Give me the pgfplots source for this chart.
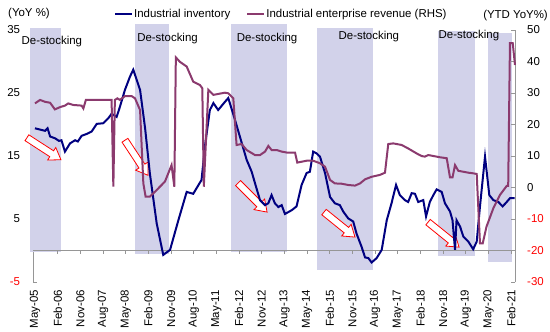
\documentclass[border=0pt]{standalone}
\usepackage{pgfplots}
\pgfplotsset{compat=1.18}
\usepackage{fontspec}
\setmainfont{Liberation Sans}
\definecolor{invcol}{RGB}{0,0,128}
\definecolor{revcol}{RGB}{139,58,110}
\definecolor{shadecol}{RGB}{210,210,234}
\definecolor{axgray}{RGB}{150,150,150}
% hollow arrow: #1 m, #2 v (tail), #3 angle, #4 length, #5 head base
\newcommand{\hollowarrow}[5]{%
  \draw[red, line width=0.8pt, fill=white, shift={(axis cs:#1,#2)}, rotate=#3]
    (canvas cs:x=0bp,y=-3.5bp) -- (canvas cs:x=#5bp,y=-3.5bp) -- (canvas cs:x=#5bp,y=-7.5bp)
    -- (canvas cs:x=#4bp,y=0bp) -- (canvas cs:x=#5bp,y=7.5bp) -- (canvas cs:x=#5bp,y=3.5bp)
    -- (canvas cs:x=0bp,y=3.5bp) -- cycle;}
\begin{document}
\begin{tikzpicture}[font=\fontsize{11.5}{13.8}\selectfont]
\pgfplotsset{common/.style={scale only axis, width=481.7bp, height=252bp,
  xmin=-0.67, xmax=190.5, clip=false, major tick length=4bp}}
\begin{axis}[common, ymin=-5, ymax=35,
  axis y line*=left, axis x line*=bottom,
  x axis line style={draw=none},
  y axis line style={axgray, line width=0.8pt},
  xtick={0,9,...,189},
  xticklabels={May-05,Feb-06,Nov-06,Aug-07,May-08,Feb-09,Nov-09,Aug-10,May-11,Feb-12,Nov-12,Aug-13,May-14,Feb-15,Nov-15,Aug-16,May-17,Feb-18,Nov-18,Aug-19,May-20,Feb-21},
  xtick style={draw=none},
  xticklabel style={yshift=-8bp, rotate=90, anchor=east, inner sep=0pt},
  ytick={-5,5,15,25,35},
  yticklabels={\textcolor{red}{-5},5,15,25,35},
  ytick style={axgray, line width=0.8pt},
  yticklabel style={inner sep=0pt, xshift=-13bp},
]
% de-stocking periods
\addplot[forget plot, draw=none, fill=shadecol] coordinates {(-2,-0.2) (10.3,-0.2) (10.3,35.3) (-2,35.3)} -- cycle;
\addplot[forget plot, draw=none, fill=shadecol] coordinates {(39.7,-0.5) (53.2,-0.5) (53.2,36) (39.7,36)} -- cycle;
\addplot[forget plot, draw=none, fill=shadecol] coordinates {(77.8,-0.3) (100,-0.3) (100,36) (77.8,36)} -- cycle;
\addplot[forget plot, draw=none, fill=shadecol] coordinates {(111.9,-3.1) (134.1,-3.1) (134.1,35.3) (111.9,35.3)} -- cycle;
\addplot[forget plot, draw=none, fill=shadecol] coordinates {(159.9,-0.9) (174.6,-0.9) (174.6,34.8) (159.9,34.8)} -- cycle;
\addplot[forget plot, draw=none, fill=shadecol] coordinates {(179.8,-1.8) (189.3,-1.8) (189.3,34.5) (179.8,34.5)} -- cycle;
\node at (axis cs:6.7,33.1) {De-stocking};
\node at (axis cs:52.6,33.7) {De-stocking};
\node at (axis cs:92.1,33.7) {De-stocking};
\node at (axis cs:132.5,33.9) {De-stocking};
\node at (axis cs:172.2,34.2) {De-stocking};
% zero line with ticks
\draw[axgray, line width=0.8pt] (axis cs:-0.67,0) -- (axis cs:190.5,0);
\pgfplotsinvokeforeach{9,18,...,189}{\draw[axgray, line width=0.8pt] (axis cs:#1,0) -- ++(canvas cs:x=0bp,y=-3bp);}
% arrows
\hollowarrow{-3.2}{17.9}{-32.9}{40.5}{29.5}
\hollowarrow{35.7}{17.5}{-56.7}{41.9}{30.9}
\hollowarrow{80.6}{10.7}{-45}{41}{30}
\hollowarrow{114.7}{6.1}{-38.9}{39.8}{28.8}
\hollowarrow{156}{4.5}{-38.9}{39.8}{28.8}
% industrial inventory (LHS)
\addplot[invcol, line width=2bp, forget plot] coordinates {
(0,19.4) (2,19.2) (4,19.0) (5,19.4) (6,18.1) (8,17.8) (9.5,17.4) (10.5,17.5) (11.9,15.7) (13.9,17.0)
(15.9,17.5) (17,17.3) (18.5,18.2) (20.5,18.5) (22.5,18.9) (24.5,20.1) (27.1,20.2) (29.1,21.0) (30.4,21.7)
(32.4,21.2) (33.7,22.8) (35.7,25.5) (37.7,27.6) (39,28.7) (41.7,25.5) (43.7,19.4) (45.6,12.2) (48.3,4.3)
(50.9,-0.7) (53.6,0.1) (56.9,4.8) (60.2,9.3) (62.8,9.0) (66.1,11.2) (67.5,16.7) (69.4,22.3) (70.8,23.4)
(72.7,22.3) (75.4,23.6) (76.7,24.2) (79.4,20.7) (81.3,18.1) (84,14.4) (86,12.5) (87.3,10.7) (89.3,8.0)
(91.3,7.2) (92.6,7.5) (93.9,8.8) (95.2,7.5) (96.6,6.9) (97.9,7.2) (99.2,5.8) (101.9,6.4) (103.8,7.0)
(105.8,10.4) (107.8,12.3) (109.1,12.5) (110.4,15.7) (111.8,15.4) (113.1,14.9) (115.1,12.3) (117.1,8.5)
(119,7.5) (121,7.2) (122.3,6.2) (124.3,5.1) (126.3,4.6) (127.6,2.7) (129.6,0.6) (131,-1.1) (132.3,-1.2)
(133.6,-1.9) (135.6,-1.2) (137.6,0.1) (139.6,4.8) (141.5,7.5) (143.3,10.4) (144.8,8.8) (146.8,8.0)
(148.1,7.7) (149.5,9.1) (150.8,9.0) (152.1,7.7) (154.1,8.0) (155.2,5.4) (156.7,7.7) (158.1,8.8) (159.4,9.7)
(161.4,9.3) (162.7,7.5) (164.7,6.2) (165.7,4.8) (166.7,0.1) (167.3,4.8) (168.7,3.8) (170,2.2) (172,1.4)
(173.9,0.2) (175.3,1.4) (176.6,7.0) (178.6,14.9) (180.3,8.8) (181.9,8.0) (183.9,7.7) (185.6,7.0)
(187.2,7.7) (188.5,8.3) (190.3,8.3)
};
\end{axis}
\begin{axis}[common, ymin=-30, ymax=50,
  axis y line*=right, axis x line=none,
  y axis line style={axgray, line width=0.8pt},
  ytick={-30,-20,...,50},
  yticklabels={\textcolor{red}{-30},\textcolor{red}{-20},\textcolor{red}{-10},0,10,20,30,40,50},
  ytick style={axgray, line width=0.8pt},
  yticklabel style={inner sep=0pt, xshift=12bp},
  legend style={at={(0.1675,1.063)}, anchor=west, draw=none, fill=none, inner sep=0pt,
    legend columns=2, nodes={inner sep=1bp},
    /tikz/every even column/.append style={column sep=15bp}},
  legend image code/.code={\draw[#1] (0bp,0bp) -- (17bp,0bp);},
]
\addlegendimage{invcol, line width=2bp}
\addlegendentry{Industrial inventory}
\addplot[revcol, line width=2bp] coordinates {
(0,26.7) (2,27.8) (4,27.2) (6,26.9) (7.9,24.8) (9.9,25.5) (11.9,26.0) (13.2,26.7) (15.2,26.2) (18.5,26.0)
(19.2,25.1) (20.2,27.8) (24.5,27.8) (30.4,27.8) (31.1,0.25) (31.7,27.8) (32.7,28.3) (33.7,27.8) (35.7,29.0)
(38.4,29.0) (39.7,28.3) (41.7,24.6) (43,1.3) (43.9,-2.9) (45.6,-2.9) (48.3,-0.8) (51.6,1.9) (54.2,7.1)
(55.3,0.25) (55.9,41.3) (57.5,39.9) (60.2,38.4) (62.8,33.6) (65.5,32.5) (66.4,31.5) (67,0.25) (68.8,31.0)
(70.8,29.4) (72.7,29.7) (75.4,30.1) (76.7,29.9) (78.7,28.3) (80,13.5) (82,13.8) (84,11.9) (87.3,10.3)
(89.3,10.3) (91.3,11.4) (92.6,13.2) (93.9,11.9) (95.9,11.9) (97.9,11.4) (99.9,11.1) (103.2,11.1) (104.1,7.9)
(107.8,8.5) (110.4,8.5) (113.1,7.7) (115.1,6.6) (117.1,2.4) (119,1.3) (121.7,1.2) (124.3,0.8) (127,0.6)
(129,1.3) (131,2.6) (133.6,3.4) (136.9,4.0) (138.9,4.7) (140.2,13.8) (142.2,14.0) (145.5,13.5) (148.1,12.4)
(151.5,10.8) (153.4,10.0) (154.7,9.8) (156.1,10.3) (160.7,9.6) (163.4,9.3) (164.7,3.2) (165.7,3.2)
(166.7,7.1) (168,5.3) (170,5.0) (172,4.7) (173.9,4.5) (175.3,4.3) (176.6,-17.7) (177.7,-17.7) (179.2,-12.4)
(181.9,-6.6) (184.5,-2.4) (187.2,0.5) (187.8,0.5) (188.5,45.8) (189.6,45.8) (190.5,38.9)
};
\addlegendentry{Industrial enterprise revenue (RHS)}
\end{axis}
\node[anchor=west, inner sep=0pt] at (-25.3bp,268bp) {(YoY \%)};
\node[anchor=east, inner sep=0pt] at (514.7bp,266bp) {(YTD YoY\%)};
\pgfresetboundingbox
\path (-33.3bp,-50bp) rectangle (516.7bp,282bp);
\end{tikzpicture}
\end{document}
